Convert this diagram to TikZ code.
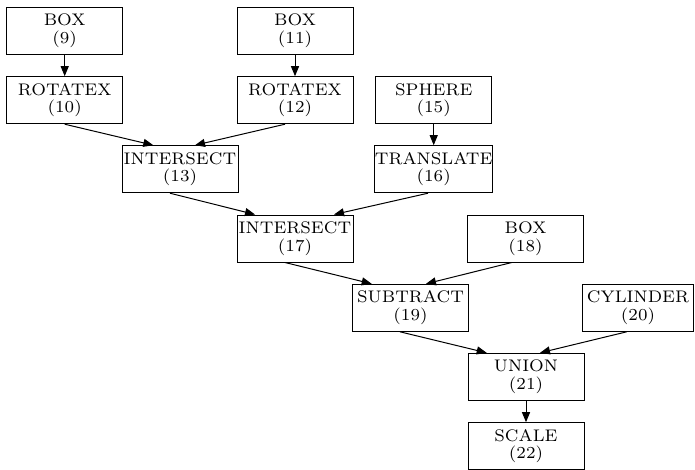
\documentclass[tikz,border=0pt]{standalone}
\usepackage{fontspec}
\newfontfamily\gvfont{lmroman7-regular.otf}
\usetikzlibrary{arrows.meta}
\tikzset{
  gvbox/.style={draw, line width=1pt, minimum width=116pt, minimum height=47pt, inner sep=0pt,
    align=center, font=\gvfont\fontsize{16.8pt}{17.5pt}\selectfont},
  edge/.style={line width=1pt, -{Triangle[length=10pt,width=8pt]}}
}
\begin{document}
\begin{tikzpicture}[x=1pt,y=-1pt]
\useasboundingbox (0,0) rectangle (695,469);
\clip (0,0) rectangle (695,469);
\node[gvbox] (n9)  at (64.7,30.8)  {BOX\\(9)};
\node[gvbox] (n11) at (295,30.8)   {BOX\\(11)};
\node[gvbox] (n10) at (64.7,100.2) {ROTATEX\\(10)};
\node[gvbox] (n12) at (295,100.2)  {ROTATEX\\(12)};
\node[gvbox] (n15) at (433.7,100.2) {SPHERE\\(15)};
\node[gvbox] (n13) at (180,169.2)  {INTERSECT\\(13)};
\node[gvbox] (n16) at (433.7,169.2) {TRANSLATE\\(16)};
\node[gvbox] (n17) at (295,238.5)  {INTERSECT\\(17)};
\node[gvbox] (n18) at (525.5,238.5) {BOX\\(18)};
\node[gvbox] (n19) at (410.5,307.8) {SUBTRACT\\(19)};
\node[gvbox, minimum width=110.6pt] (n20) at (638,307.8) {CYLINDER\\(20)};
\node[gvbox] (n21) at (526,376.8)  {UNION\\(21)};
\node[gvbox] (n22) at (526,446.2)  {SCALE\\(22)};
\draw[edge] (n9.south) -- (n10.north);
\draw[edge] (n11.south) -- (n12.north);
\draw[edge] (n15.south) -- (n16.north);
\draw[edge] (n10.south) -- ([xshift=-26.7pt]n13.north);
\draw[edge] ([xshift=-10pt]n12.south) -- ([xshift=15pt]n13.north);
\draw[edge] ([xshift=-10pt]n13.south) -- ([xshift=-40pt]n17.north);
\draw[edge] ([xshift=-5.7pt]n16.south) -- ([xshift=39pt]n17.north);
\draw[edge] ([xshift=-10pt]n17.south) -- ([xshift=-38.8pt]n19.north);
\draw[edge] ([xshift=-13.8pt]n18.south) -- ([xshift=15.5pt]n19.north);
\draw[edge] ([xshift=-10.5pt]n19.south) -- ([xshift=-39.3pt]n21.north);
\draw[edge] ([xshift=-11.3pt]n20.south) -- ([xshift=14pt]n21.north);
\draw[edge] (n21.south) -- (n22.north);
\end{tikzpicture}
\end{document}
